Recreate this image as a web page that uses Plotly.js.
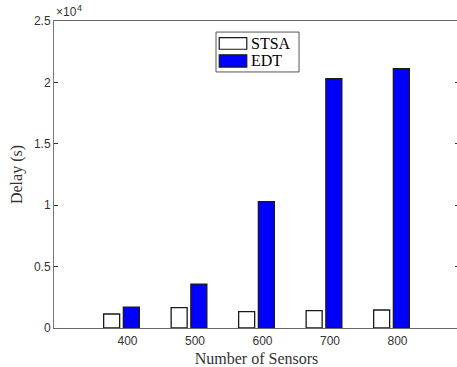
<!DOCTYPE html>
<html>
<head>
<meta charset="utf-8">
<script src="https://cdn.plot.ly/plotly-3.0.1.min.js"></script>
<style>
html,body{margin:0;padding:0;overflow:hidden;background:#fff;}
#chart{width:459px;height:367px;}
</style>
</head>
<body>
<div id="chart"></div>
<script>
// Data
var sensors = [400, 500, 600, 700, 800];
var stsaDelay = [1140, 1660, 1335, 1420, 1465];
var edtDelay = [1690, 3580, 10290, 20310, 21120];
var seriesNames = ['STSA', 'EDT'];
var yTickVals = [0, 5000, 10000, 15000, 20000, 25000];
var yTickText = ['0', '0.5', '1', '1.5', '2', '2.5'];
var xTickText = ['400', '500', '600', '700', '800'];
var yExponentBase = '\u00d710';
var yExponent = '4';

var edge = {color: '#1a1a1a', width: 1.3};
var traces = [
  {type: 'bar', name: seriesNames[0], x: sensors, y: stsaDelay,
   marker: {color: '#ffffff', line: edge}, showlegend: false, hoverinfo: 'x+y'},
  {type: 'bar', name: seriesNames[1], x: sensors, y: edtDelay,
   marker: {color: '#0000ff', line: edge}, showlegend: false, hoverinfo: 'x+y'}
];

// custom MATLAB-style legend (wide patches)
var lg = {x0: 0.400, x1: 0.605, y0: 0.834, y1: 0.964};
var patches = [
  {y0: 0.908, y1: 0.946, fill: '#ffffff'},
  {y0: 0.850, y1: 0.890, fill: '#0000ff'}
];
var shapes = [{type: 'rect', xref: 'paper', yref: 'paper', x0: lg.x0, x1: lg.x1, y0: lg.y0, y1: lg.y1,
  line: {color: '#555', width: 1}, fillcolor: '#ffffff', layer: 'above'}];
var annotations = [];
patches.forEach(function (p, i) {
  shapes.push({type: 'rect', xref: 'paper', yref: 'paper', x0: 0.408, x1: 0.476, y0: p.y0, y1: p.y1,
    line: {color: '#1a1a1a', width: 1.2}, fillcolor: p.fill, layer: 'above'});
  annotations.push({xref: 'paper', yref: 'paper', x: 0.481, y: (p.y0 + p.y1) / 2, xanchor: 'left', yanchor: 'middle',
    text: seriesNames[i], showarrow: false, font: {family: 'Liberation Serif, Times New Roman, serif', size: 16, color: '#000'}});
});
// axis multiplier label "x10^4"
annotations.push({xref: 'paper', yref: 'paper', x: 0.0, y: 1.0, xanchor: 'left', yanchor: 'bottom', yshift: 0, xshift: 0,
  text: yExponentBase, showarrow: false, font: {family: 'Liberation Sans, Arial, sans-serif', size: 12, color: '#333'}});
annotations.push({xref: 'paper', yref: 'paper', x: 0.052, y: 1.0, xanchor: 'left', yanchor: 'bottom', yshift: 6,
  text: yExponent, showarrow: false, font: {family: 'Liberation Sans, Arial, sans-serif', size: 9, color: '#333'}});

var layout = {
  width: 459, height: 367,
  margin: {l: 54, r: 0, t: 21, b: 39, pad: 0},
  paper_bgcolor: '#fff', plot_bgcolor: '#fff',
  barmode: 'group', bargap: 0.416, bargroupgap: 0.188,
  font: {family: 'Liberation Sans, Arial, sans-serif', size: 12, color: '#333'},
  xaxis: {
    range: [300, 900], tickmode: 'array', tickvals: sensors, ticktext: xTickText,
    ticks: '', showgrid: false, zeroline: false, showline: true, linecolor: '#666', linewidth: 1, mirror: true,
    ticklabelshift: 6, ticklabelstandoff: 2,
    tickfont: {family: 'Liberation Sans, Arial, sans-serif', size: 12, color: '#333'},
    title: {text: 'Number of Sensors', standoff: 6, font: {family: 'Liberation Serif, Times New Roman, serif', size: 16, color: '#333'}}
  },
  yaxis: {
    range: [0, 25000], tickmode: 'array', tickvals: yTickVals, ticktext: yTickText,
    ticks: 'inside', ticklen: 4, tickcolor: '#333', showgrid: false, zeroline: false,
    showline: true, linecolor: '#777', linewidth: 1, mirror: 'ticks',
    tickfont: {family: 'Liberation Sans, Arial, sans-serif', size: 12, color: '#333'},
    title: {text: 'Delay (s)', standoff: 7, font: {family: 'Liberation Serif, Times New Roman, serif', size: 16, color: '#333'}}
  },
  shapes: shapes,
  annotations: annotations,
  showlegend: false
};

Plotly.newPlot('chart', traces, layout, {displayModeBar: false, staticPlot: true});
</script>
</body>
</html>
